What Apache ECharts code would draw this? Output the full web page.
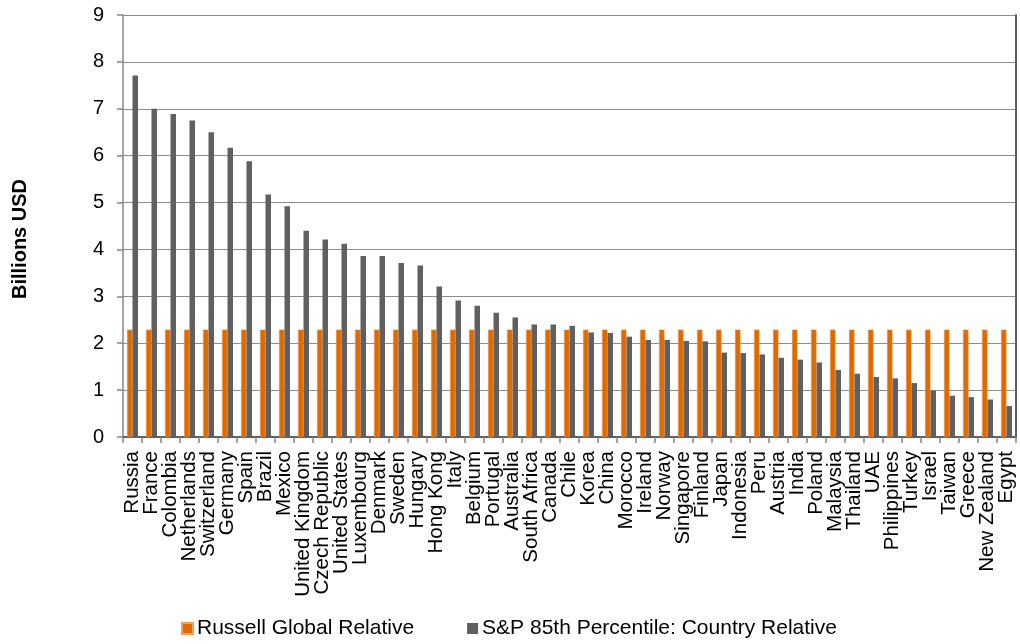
<!DOCTYPE html>
<html>
<head>
<meta charset="utf-8">
<script src="https://cdn.jsdelivr.net/npm/echarts@6/dist/echarts.min.js"></script>
<style>
  html, body { margin: 0; padding: 0; background: #fff; }
  #chart { width: 1020px; height: 644px; }
</style>
</head>
<body>
<div id="chart"></div>
<script>
// Country categories, in descending order of the S&P threshold
const countries = [
  'Russia', 'France', 'Colombia', 'Netherlands', 'Switzerland', 'Germany', 'Spain', 'Brazil',
  'Mexico', 'United Kingdom', 'Czech Republic', 'United States', 'Luxembourg', 'Denmark',
  'Sweden', 'Hungary', 'Hong Kong', 'Italy', 'Belgium', 'Portugal', 'Australia',
  'South Africa', 'Canada', 'Chile', 'Korea', 'China', 'Morocco', 'Ireland', 'Norway',
  'Singapore', 'Finland', 'Japan', 'Indonesia', 'Peru', 'Austria', 'India', 'Poland',
  'Malaysia', 'Thailand', 'UAE', 'Philippines', 'Turkey', 'Israel', 'Taiwan', 'Greece',
  'New Zealand', 'Egypt'
];

// Russell Global Relative threshold (billions USD)
const russellGlobal = [
  2.29, 2.29, 2.29, 2.29, 2.29, 2.29, 2.29, 2.29, 2.29, 2.29, 2.29, 2.29, 2.29, 2.29,
  2.29, 2.29, 2.29, 2.29, 2.29, 2.29, 2.29, 2.29, 2.29, 2.29, 2.29, 2.29, 2.29, 2.29,
  2.29, 2.29, 2.29, 2.29, 2.29, 2.29, 2.29, 2.29, 2.29, 2.29, 2.29, 2.29, 2.29, 2.29,
  2.29, 2.29, 2.29, 2.29, 2.29
];

// S&P 85th Percentile: Country Relative threshold (billions USD)
const spCountry = [
  7.71, 7.00, 6.89, 6.75, 6.50, 6.17, 5.88, 5.17, 4.92, 4.40, 4.21, 4.12, 3.86, 3.86,
  3.71, 3.66, 3.21, 2.91, 2.80, 2.65, 2.55, 2.40, 2.40, 2.37, 2.23, 2.22, 2.14, 2.07,
  2.07, 2.05, 2.04, 1.80, 1.79, 1.76, 1.69, 1.65, 1.59, 1.43, 1.35, 1.28, 1.25, 1.15,
  0.99, 0.88, 0.85, 0.80, 0.66
];

// Value axis ticks
const yTicks = { min: 0, max: 9, step: 1 };

const seriesNames = ['Russell Global Relative', 'S&P 85th Percentile: Country Relative'];
const FONT = '"Liberation Sans", Arial, sans-serif';

const chart = echarts.init(document.getElementById('chart'), null, { renderer: 'canvas' });

chart.setOption({
  animation: false,
  backgroundColor: '#ffffff',
  textStyle: { fontFamily: FONT, color: '#000' },
  grid: { left: 123, right: 4, top: 15, bottom: 207, containLabel: false },
  legend: {
    data: seriesNames,
    left: 181,
    top: 618,
    padding: 0,
    icon: 'rect',
    itemWidth: 11,
    itemHeight: 11,
    itemGap: 53,
    textStyle: { fontFamily: FONT, fontSize: 21, color: '#000', padding: [0, 0, 0, -1] }
  },
  graphic: [{
    type: 'text',
    x: 20,
    y: 239,
    rotation: Math.PI / 2,
    style: {
      text: 'Billions USD',
      font: 'bold 20px ' + FONT,
      fill: '#000',
      align: 'center',
      verticalAlign: 'middle'
    }
  }],
  xAxis: [{
    type: 'category',
    data: countries,
    boundaryGap: true,
    axisLine: { lineStyle: { color: '#868686', width: 1.5 } },
    axisTick: { show: true, length: 6, lineStyle: { color: '#868686', width: 1.5 } },
    axisLabel: {
      interval: 0,
      rotate: 90,
      margin: 14,
      fontFamily: FONT,
      fontSize: 20.5,
      color: '#000'
    },
    splitLine: { show: false }
  }, {
    type: 'category',
    position: 'top',
    data: countries,
    axisLine: { lineStyle: { color: '#5f5f5f', width: 2 } },
    axisTick: { show: false },
    axisLabel: { show: false }
  }],
  yAxis: [{
    type: 'value',
    min: yTicks.min,
    max: yTicks.max,
    interval: yTicks.step,
    axisLine: { show: true, lineStyle: { color: '#868686', width: 1.5 } },
    axisTick: { show: true, length: 6, lineStyle: { color: '#868686', width: 1.5 } },
    axisLabel: { margin: 19, fontFamily: FONT, fontSize: 20, color: '#000' },
    splitLine: { show: true, lineStyle: { color: '#8c8c8c', width: 1.2 } }
  }, {
    type: 'value',
    position: 'right',
    min: yTicks.min,
    max: yTicks.max,
    interval: yTicks.step,
    axisLine: { show: true, lineStyle: { color: '#5f5f5f', width: 2 } },
    axisTick: { show: false },
    axisLabel: { show: false },
    splitLine: { show: false }
  }],
  series: [{
    name: seriesNames[0],
    type: 'bar',
    data: russellGlobal,
    barWidth: 5.5,
    barGap: '0%',
    itemStyle: { color: '#e06a00', borderColor: '#f0a060', borderWidth: 0.5 }
  }, {
    name: seriesNames[1],
    type: 'bar',
    data: spCountry,
    barWidth: 5.5,
    barGap: '0%',
    itemStyle: { color: '#606060' }
  }]
});
</script>
</body>
</html>
